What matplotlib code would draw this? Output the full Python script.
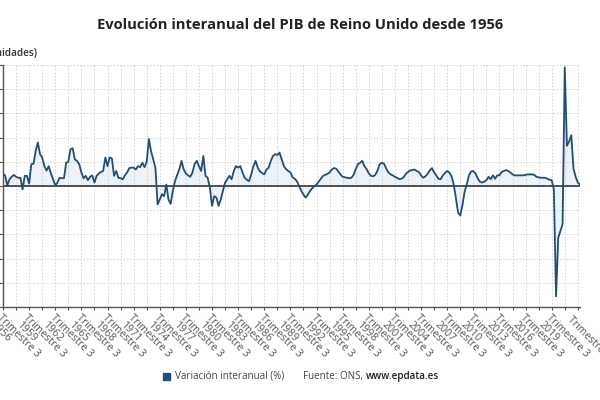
import matplotlib
matplotlib.use("Agg")
import matplotlib.pyplot as plt
import numpy as np
from matplotlib.patches import Rectangle

# Quarterly year-on-year GDP growth (%), from 1956 Q3 to 2022 Q4
growth = [
    2.6, 2.1, 0.1, 1.4, 1.9, 2.3, 1.9, 1.7,
    1.7, -0.7, 2.1, 2.1, 0.5, 4.5, 4.6, 7.2,
    9.0, 6.6, 5.9, 4.1, 3.2, 4.1, 2.6, 1.4,
    0.1, 0.7, 1.7, 1.6, 1.6, 4.8, 5.0, 7.6,
    7.8, 5.5, 5.2, 4.5, 2.8, 1.6, 2.1, 1.2,
    1.9, 2.2, 0.7, 2.1, 2.6, 2.9, 3.1, 5.9,
    4.1, 5.9, 5.7, 2.1, 3.1, 1.7, 1.6, 1.4,
    2.2, 2.8, 3.7, 3.8, 3.8, 3.4, 4.1, 3.9,
    4.8, 3.9, 5.0, 9.7, 7.2, 5.5, 3.8, -3.8,
    -2.8, -1.7, -2.1, 0.3, -2.8, -3.7, -1.0, 1.0,
    2.3, 3.5, 5.2, 3.4, 2.6, 2.2, 1.9, 2.8,
    4.5, 5.2, 4.1, 3.1, 6.2, 2.1, 1.7, -0.3,
    -4.1, -2.1, -2.4, -4.1, -2.8, -1.0, 0.7, 1.4,
    2.1, 1.4, 3.1, 4.1, 3.8, 4.1, 2.8, 1.7,
    1.3, 1.0, 2.4, 4.1, 5.2, 3.8, 3.0, 2.7,
    2.4, 3.4, 3.8, 5.2, 6.2, 6.6, 6.4, 6.9,
    5.5, 4.1, 3.5, 3.1, 2.8, 1.8, 1.5, 1.0,
    0.0, -1.0, -1.8, -2.4, -1.8, -1.0, -0.5, 0.0,
    0.3, 0.9, 1.5, 2.1, 2.3, 2.5, 2.8, 3.4,
    3.7, 3.6, 3.0, 2.4, 1.9, 1.8, 1.7, 1.6,
    1.7, 2.3, 3.5, 4.5, 4.8, 5.2, 4.1, 3.5,
    2.6, 2.1, 2.0, 2.3, 3.2, 4.5, 4.8, 4.6,
    3.6, 2.8, 2.4, 2.2, 1.9, 1.7, 1.4, 1.5,
    1.8, 2.5, 2.9, 3.2, 3.3, 3.4, 3.1, 2.9,
    2.2, 1.7, 2.0, 2.5, 3.2, 3.7, 2.8, 2.2,
    1.5, 1.4, 2.2, 2.7, 3.1, 2.8, 2.0, 0.3,
    -2.5, -5.5, -6.1, -4.0, -1.2, 0.3, 2.2, 3.0,
    3.1, 2.6, 1.6, 0.9, 0.7, 0.9, 1.2, 1.9,
    1.4, 2.2, 1.5, 2.2, 2.2, 2.9, 3.1, 3.3,
    3.1, 2.8, 2.4, 2.2, 2.2, 2.2, 2.2, 2.2,
    2.3, 2.4, 2.4, 2.4, 2.3, 1.9, 1.8, 1.7,
    1.7, 1.7, 1.5, 1.3, 1.2, -0.7, -22.8, -10.7,
    -9.3, -7.9, 24.5, 8.3, 9.2, 10.5, 3.6, 1.9, 0.7, 0.3,
]

label_years = list(range(1956, 2020, 3))
tick_labels = ["Trimestre 3\n%d" % y for y in label_years]
last_label = "Trimestre 4"

title = "Evolución interanual del PIB de Reino Unido desde 1956"
series_name = "Variación interanual (%)"
source_text = "Fuente: ONS, "
source_link = "www.epdata.es"
y_unit = "(unidades)"

FONT = ["Open Sans", "DejaVu Sans"]
plt.rcParams["font.family"] = FONT

line_color = "#1f4e79"
text_color = "#333333"
label_color = "#555555"

fig = plt.figure(figsize=(6, 4), dpi=100)
ax = fig.add_axes([3 / 600, 1 - 307 / 400, 577 / 600, 242 / 400])

x = np.arange(len(growth))
y = np.array(growth)
ax.fill_between(x, y, 0, color="#dfe8f2", alpha=0.55, linewidth=0)
ax.plot(x, y, color=line_color, linewidth=1.3, zorder=3, solid_joinstyle="round")
ax.axhline(0, color="#444444", linewidth=1.3, zorder=2)

ax.set_xlim(0, len(growth) - 1)
ax.set_ylim(-25, 25)
ax.set_yticks(np.arange(-25, 26, 5))
ax.tick_params(axis="y", length=3, color="#555555", labelsize=7, labelcolor=text_color)

major = list(range(0, len(growth), 6))
ax.set_xticks(major)
lbls = []
k = 0
for m in major:
    if m % 12 == 0 and k < len(tick_labels):
        lbls.append(tick_labels[k]); k += 1
    else:
        lbls.append("")
ax.set_xticklabels(lbls)
ax.tick_params(axis="x", length=2, color="#555555", pad=1.5)
for t in ax.get_xticklabels():
    t.set_rotation(-45)
    t.set_rotation_mode("anchor")
    t.set_ha("left")
    t.set_va("top")
    t.set_fontsize(7.6)
    t.set_color(label_color)
    t.set_linespacing(0.95)

ax.text(len(growth) - 1, -25, "\n" + last_label, rotation=-45, rotation_mode="anchor",
        ha="left", va="top", fontsize=7.6, color=label_color, clip_on=False,
        transform=ax.transData, linespacing=0.95)

ax.grid(True, which="major", color="#d0d0d0", linestyle=(0, (2, 2)), linewidth=0.6)
for s in ["top", "right"]:
    ax.spines[s].set_visible(False)
ax.spines["left"].set_color("#555555")
ax.spines["bottom"].set_color("#555555")
ax.spines["left"].set_linewidth(1.0)
ax.spines["bottom"].set_linewidth(1.0)

fig.text(0.5, 1 - 25 / 400, title, ha="center", va="center", fontsize=10.6,
         fontweight="bold", color="#222222")
fig.text(-13 / 600, 1 - 54 / 400, y_unit, ha="left", va="center", fontsize=7.2,
         fontweight="semibold", color="#333333")

# legend / source
fig.patches.append(Rectangle((163 / 600, 1 - 380 / 400), 7 / 600, 7 / 400,
                             transform=fig.transFigure, color=line_color))
fig.text(175 / 600, 1 - 376 / 400, series_name, ha="left", va="center",
         fontsize=7.1, color="#444444")
t1 = fig.text(303 / 600, 1 - 376 / 400, source_text, ha="left", va="center",
              fontsize=7.1, color="#444444")
fig.canvas.draw()
bb = t1.get_window_extent()
fig.text(bb.x1 / 600, 1 - 376 / 400, source_link, ha="left", va="center",
         fontsize=7.1, color="#222222", fontweight="semibold")

fig.savefig("out.png", dpi=100)
